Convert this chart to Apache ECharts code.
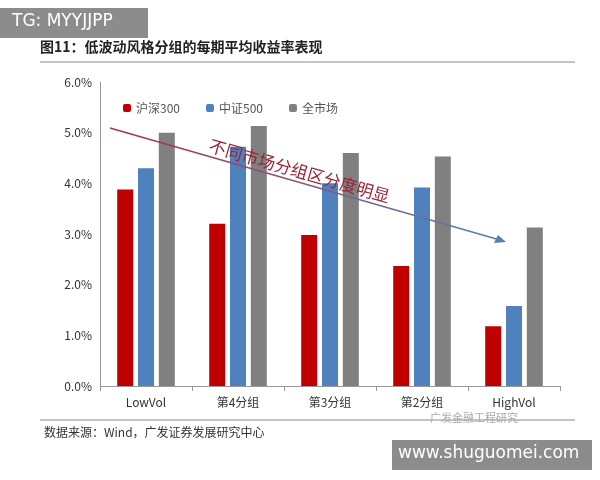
<!DOCTYPE html>
<html>
<head>
<meta charset="utf-8">
<script src="https://cdn.jsdelivr.net/npm/echarts@6/dist/echarts.min.js"></script>
<style>
  body { margin: 0; background: #fff; }
  #main { width: 600px; height: 480px; }
</style>
</head>
<body>
<div id="main"></div>
<script>
// 分组类别
var groups = ['LowVol', '第4分组', '第3分组', '第2分组', 'HighVol'];
// 每期平均收益率 (%)
var hs300 = [3.88, 3.20, 2.98, 2.37, 1.18];
var zz500 = [4.30, 4.72, 4.00, 3.92, 1.58];
var allMarket = [5.00, 5.13, 4.60, 4.53, 3.13];
var yTicks = [0, 1, 2, 3, 4, 5, 6];

var chart = echarts.init(document.getElementById('main'));
var font = '"Noto Sans CJK SC", sans-serif';

chart.setOption({
  backgroundColor: '#fff',
  textStyle: { fontFamily: font },
  grid: { left: 100, right: 40, top: 82, bottom: 94 },
  legend: {
    left: 118, top: 97,
    itemWidth: 8, itemHeight: 8, itemGap: 26,
    textStyle: { color: '#555', fontSize: 12 },
    data: ['沪深300', '中证500', '全市场']
  },
  xAxis: {
    type: 'category',
    data: groups,
    axisLine: { lineStyle: { color: '#999' } },
    axisTick: { show: true, lineStyle: { color: '#999' } },
    axisLabel: { color: '#333', fontSize: 12, margin: 10 }
  },
  yAxis: {
    type: 'value',
    min: 0, max: 6, interval: 1,
    axisLine: { show: true, lineStyle: { color: '#999' } },
    axisTick: { show: false },
    splitLine: { show: false },
    axisLabel: {
      color: '#333', fontSize: 12,
      formatter: function (v) { return v.toFixed(1) + '%'; }
    }
  },
  series: [
    { name: '沪深300', type: 'bar', data: hs300, barWidth: 16, barGap: '30%', itemStyle: { color: '#c00000' } },
    { name: '中证500', type: 'bar', data: zz500, barWidth: 16, barGap: '30%', itemStyle: { color: '#4f81bd' } },
    { name: '全市场', type: 'bar', data: allMarket, barWidth: 16, barGap: '30%', itemStyle: { color: '#808080' } }
  ],
  graphic: [
    { type: 'rect', z: 100, shape: { x: 0, y: 8, width: 148, height: 30 }, style: { fill: '#8c8c8c' } },
    { type: 'text', z: 101, left: 12, top: 13, style: { text: 'TG: MYYJJPP', fill: '#fff', font: '17px "DejaVu Sans", sans-serif' } },
    { type: 'text', left: 40, top: 40, style: { text: '图11：低波动风格分组的每期平均收益率表现', fill: '#222', font: 'bold 14px "Noto Sans CJK SC"' } },
    { type: 'line', shape: { x1: 40, y1: 62, x2: 575, y2: 62 }, style: { stroke: '#888', lineWidth: 1 } },
    { type: 'line', shape: { x1: 40, y1: 420, x2: 575, y2: 420 }, style: { stroke: '#888', lineWidth: 1 } },
    { type: 'text', left: 44, top: 426, style: { text: '数据来源：Wind，广发证券发展研究中心', fill: '#333', font: '12px "Noto Sans CJK SC"' } },
    { type: 'text', left: 430, top: 412, style: { text: '广发金融工程研究', fill: '#aaa', font: '11px "Noto Sans CJK SC"' } },
    { type: 'rect', z: 100, shape: { x: 392, y: 440, width: 200, height: 30 }, style: { fill: '#8c8c8c' } },
    { type: 'text', z: 101, left: 398, top: 445, style: { text: 'www.shuguomei.com', fill: '#fff', font: '17px "DejaVu Sans", sans-serif' } },
    {
      type: 'line', z: 100,
      shape: { x1: 110, y1: 128, x2: 500, y2: 240 },
      style: {
        lineWidth: 1.5,
        stroke: new echarts.graphic.LinearGradient(0, 0, 1, 0, [
          { offset: 0, color: '#a8324a' }, { offset: 1, color: '#5a7fb0' }
        ])
      }
    },
    { type: 'polygon', z: 100, shape: { points: [[506, 242], [494, 243], [498, 235]] }, style: { fill: '#5a7fb0' } },
    {
      type: 'text', z: 101, x: 212, y: 137, rotation: -0.28,
      style: { text: '不同市场分组区分度明显', fill: '#9b2335', font: '17px "Noto Sans CJK SC"' }
    }
  ]
});
</script>
</body>
</html>
